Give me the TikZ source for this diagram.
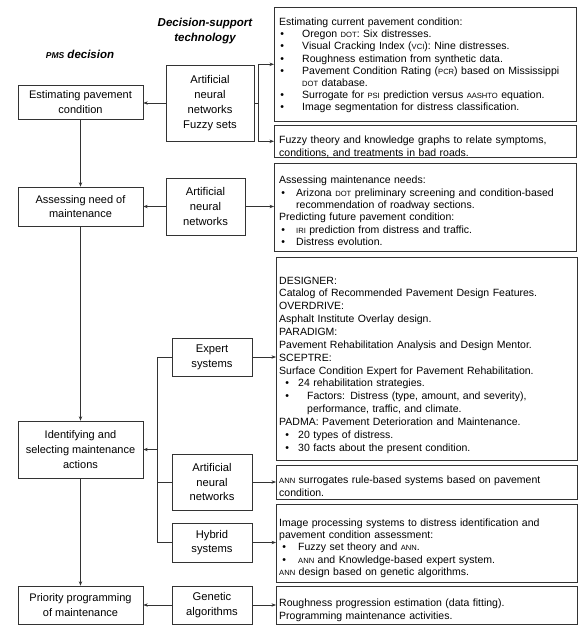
\documentclass[tikz,border=0pt]{standalone}
\usepackage{fontspec}
\setmainfont{Liberation Sans}
\usepackage{xcolor}
\usepackage{tikz}
\usetikzlibrary{arrows.meta,positioning}
\definecolor{LineGray}{HTML}{333333}
\newcommand{\sca}[1]{{\fontsize{7.6}{9}\selectfont #1}}
\newcommand{\txt}[1]{\par\noindent #1}
\newcommand{\bul}[3]{\par\noindent\hangindent=#2pt\hangafter=1\hspace*{#1pt}\makebox[0pt][c]{\textbullet}\hspace*{\dimexpr#2pt-#1pt\relax}#3}
\tikzset{
  decbox/.style={
    draw=LineGray,
    line width=0.6pt,
    align=center,
    font=\fontsize{11}{14.6}\selectfont,
    minimum width=125,
    inner sep=2pt
  },
  techbox/.style={
    draw=LineGray,
    line width=0.6pt,
    align=center,
    font=\fontsize{11.2}{14.8}\selectfont,
    inner sep=2pt
  },
  notebox/.style={
    draw=LineGray,
    line width=0.6pt,
    anchor=north west,
    inner sep=0pt,
    minimum width=302
  },
  notetext/.style={
    anchor=north west,
    inner sep=0pt,
    text width=294,
    align=left,
    font=\fontsize{10.5}{12.2}\selectfont
  },
  headtext/.style={align=center, font=\fontsize{11.5}{15}\selectfont\bfseries\itshape},
  arrow/.style={-{Stealth[length=4.5pt,width=3.4pt]}, line width=0.6pt, draw=LineGray},
  link/.style={line width=0.6pt, draw=LineGray}
}
\begin{document}
\begin{tikzpicture}[x=1pt, y=-1pt]
\useasboundingbox (0,0) rectangle (586,625);
% headings
\node[headtext] (techhead) at (205,31) {Decision-support\\technology};
\node[headtext] (pmshead) at (80,54) {{\fontsize{8.5}{9}\selectfont PMS} decision};
% PMS decisions
\node[decbox, minimum height=34] (estimate) at (80.5,102) {Estimating pavement\\condition};
\node[decbox, minimum height=39] (assess) at (80.5,206.5) {Assessing need of\\maintenance};
\node[decbox, minimum height=57] (identify) at (80.5,449.5) {Identifying and\\selecting maintenance\\actions};
\node[decbox, minimum height=38] (priority) at (80.5,605) {Priority programming\\of maintenance};
% decision-support technologies
\node[techbox, minimum width=88, minimum height=76] (annfuzzy) at (210,103) {Artificial\\neural\\networks\\Fuzzy sets};
\node[techbox, minimum width=79, minimum height=57] (annassess) at (205.5,206.5) {Artificial\\neural\\networks};
\node[techbox, minimum width=80, minimum height=38] (expert) at (212,357) {Expert\\systems};
\node[techbox, minimum width=80, minimum height=56] (annident) at (212,482) {Artificial\\neural\\networks};
\node[techbox, minimum width=80, minimum height=39] (hybrid) at (212,542.5) {Hybrid\\systems};
\node[techbox, minimum width=80, minimum height=38] (genetic) at (212,605) {Genetic\\algorithms};
% applications
\node[notebox, minimum height=114] (condnote) at (274,7) {};
\node[notebox, minimum height=32] (fuzzynote) at (274,125) {};
\node[notebox, minimum height=88] (needsnote) at (274,163) {};
\node[notebox, minimum height=203, minimum width=301] (expertnote) at (276,257) {};
\node[notebox, minimum height=34, minimum width=301] (annnote) at (276,465) {};
\node[notebox, minimum height=78, minimum width=301] (hybridnote) at (276,504) {};
\node[notebox, minimum height=38, minimum width=301] (geneticnote) at (276,586) {};
\node[notetext] (condtext) at ([xshift=5, yshift=-6]condnote.north west) {%
  \txt{Estimating current pavement condition:}
  \bul{3}{23}{Oregon \sca{DOT}: Six distresses.}
  \bul{3}{23}{Visual Cracking Index (\sca{VCI}): Nine distresses.}
  \bul{3}{23}{Roughness estimation from synthetic data.}
  \bul{3}{23}{Pavement Condition Rating (\sca{PCR}) based on Mississippi\newline \sca{DOT} database.}
  \bul{3}{23}{Surrogate for \sca{PSI} prediction versus \sca{AASHTO} equation.}
  \bul{3}{23}{Image segmentation for distress classification.}};
\node[notetext, font=\fontsize{10.5}{13.5}\selectfont] (fuzzytext) at ([xshift=5, yshift=-4.5]fuzzynote.north west) {%
  \txt{Fuzzy theory and knowledge graphs to relate symptoms,\newline conditions, and treatments in bad roads.}};
\node[notetext, font=\fontsize{10.5}{12.4}\selectfont] (needstext) at ([xshift=5, yshift=-8]needsnote.north west) {%
  \txt{Assessing maintenance needs:}
  \bul{4}{17}{Arizona \sca{DOT} preliminary screening and condition-based\newline recommendation of roadway sections.}
  \txt{Predicting future pavement condition:}
  \bul{4}{17}{\sca{IRI} prediction from distress and traffic.}
  \bul{4}{17}{Distress evolution.}};
\node[notetext, font=\fontsize{10.5}{12.85}\selectfont] (experttext) at ([xshift=3, yshift=-14]expertnote.north west) {%
  \txt{DESIGNER:}
  \txt{Catalog of Recommended Pavement Design Features.}
  \txt{OVERDRIVE:}
  \txt{Asphalt Institute Overlay design.}
  \txt{PARADIGM:}
  \txt{Pavement Rehabilitation Analysis and Design Mentor.}
  \txt{SCEPTRE:}
  \txt{Surface Condition Expert for Pavement Rehabilitation.}
  \bul{8}{19}{24 rehabilitation strategies.}
  \bul{8}{28}{Factors: Distress (type, amount, and severity),\newline performance, traffic, and climate.}
  \txt{PADMA: Pavement Deterioration and Maintenance.}
  \bul{8}{19}{20 types of distress.}
  \bul{8}{19}{30 facts about the present condition.}};
\node[notetext] (anntext) at ([xshift=3, yshift=-6.5]annnote.north west) {%
  \txt{\sca{ANN} surrogates rule-based systems based on pavement\newline condition.}};
\node[notetext] (hybridtext) at ([xshift=3, yshift=-10]hybridnote.north west) {%
  \txt{Image processing systems to distress identification and\newline pavement condition assessment:}
  \bul{5}{19}{Fuzzy set theory and \sca{ANN}.}
  \bul{5}{19}{\sca{ANN} and Knowledge-based expert system.}
  \txt{\sca{ANN} design based on genetic algorithms.}};
\node[notetext, font=\fontsize{10.5}{13}\selectfont] (genetictext) at ([xshift=3, yshift=-7.5]geneticnote.north west) {%
  \txt{Roughness progression estimation (data fitting).\newline Programming maintenance activities.}};
% ANN / fuzzy sets -> estimating condition and its notes
\draw[arrow] (annfuzzy.west) -- (annfuzzy.west -| estimate.east);
\draw[arrow] (annfuzzy.east) -- ++(4,0) |- (condnote.west);
\draw[arrow] (annfuzzy.east) -- ++(4,0) |- (fuzzynote.west);
% ANN -> assessing need and its note
\draw[arrow] (annassess.west) -- (annassess.west -| assess.east);
\draw[arrow] (annassess.east) -- (annassess.east -| needsnote.west);
% decision chain
\draw[arrow] (estimate.south) -- (assess.north);
\draw[arrow] (assess.south) -- (identify.north);
\draw[arrow] (identify.south) -- (priority.north);
% expert / ANN / hybrid -> identifying actions
\coordinate (fork) at ([xshift=14]identify.east);
\draw[link] (expert.west) -| (fork) |- (hybrid.west);
\draw[link] (annident.west) -- (annident.west -| fork);
\draw[arrow] (fork) -- (identify.east);
\draw[arrow] (expert.east) -- (expert.east -| expertnote.west);
\draw[arrow] (annident.east) -- (annident.east -| annnote.west);
\draw[arrow] (hybrid.east) -- (hybrid.east -| hybridnote.west);
% genetic algorithms -> priority programming
\draw[arrow] (genetic.west) -- (priority.east);
\draw[arrow] (genetic.east) -- (genetic.east -| geneticnote.west);
\end{tikzpicture}
\end{document}
